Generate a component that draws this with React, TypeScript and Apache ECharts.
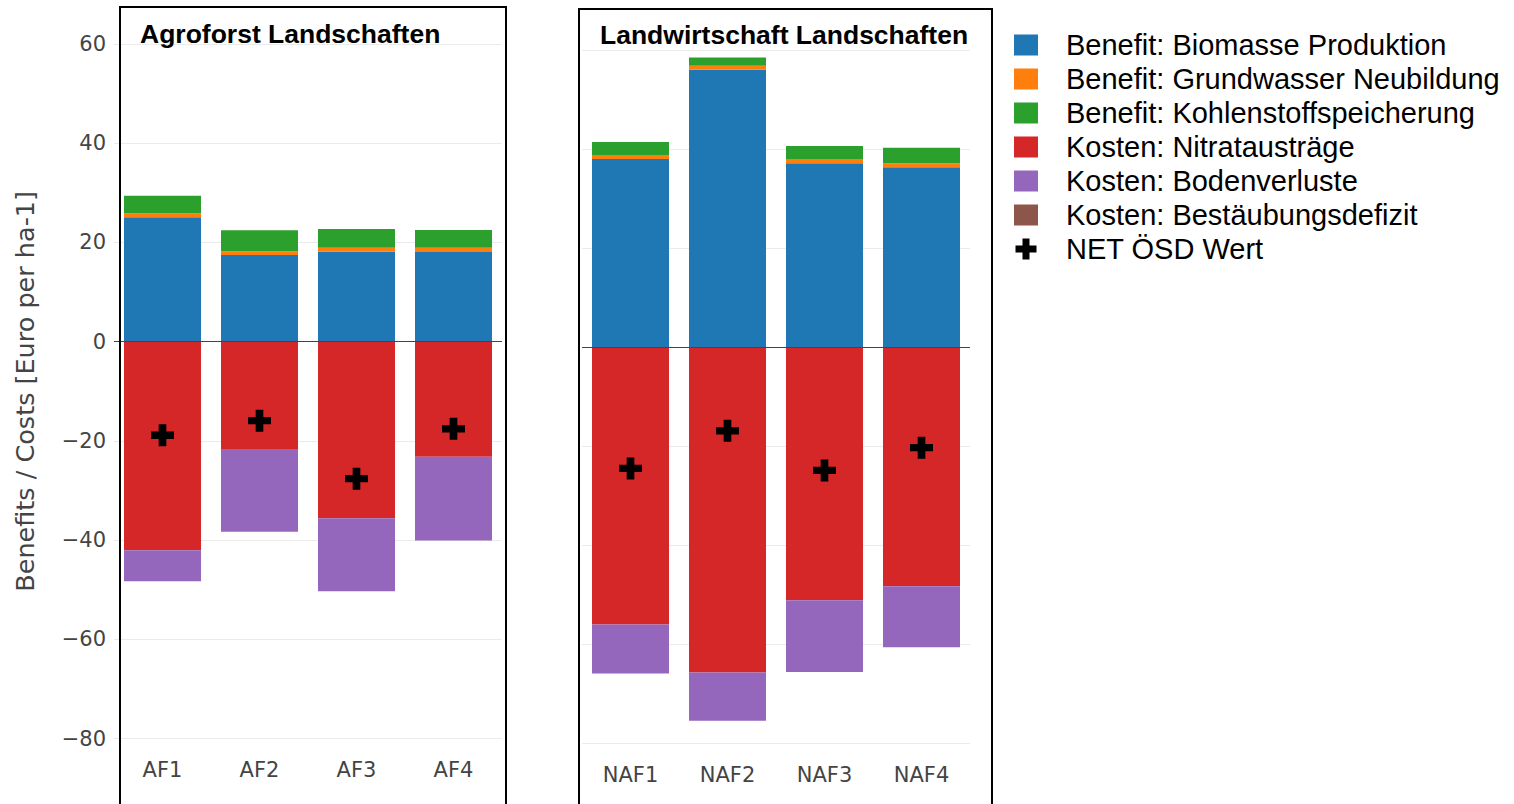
import React, { useEffect, useRef } from "react";
import * as echarts from "echarts";

const categoriesAF = ["AF1", "AF2", "AF3", "AF4"];
const categoriesNAF = ["NAF1", "NAF2", "NAF3", "NAF4"];

const biomasseAF = [25.1, 17.5, 18.15, 18.1];
const grundwasserAF = [0.8, 0.75, 0.8, 0.85];
const kohlenstoffAF = [3.5, 4.2, 3.75, 3.55];
const nitratAF = [-42.0, -21.6, -35.55, -23.2];
const bodenAF = [-6.25, -16.7, -14.75, -16.85];
const bestaeubungAF = [0, 0, 0, 0];
const netAF = [-18.85, -15.9, -27.6, -17.55];

const biomasseNAF = [38.0, 56.0, 37.15, 36.3];
const grundwasserNAF = [0.8, 0.8, 0.85, 0.85];
const kohlenstoffNAF = [2.6, 1.7, 2.6, 3.1];
const nitratNAF = [-56.0, -65.7, -51.1, -48.3];
const bodenNAF = [-9.9, -9.75, -14.5, -12.3];
const bestaeubungNAF = [0, 0, 0, 0];
const netNAF = [-24.5, -16.9, -24.9, -20.3];

const seriesNames = [
  "Benefit: Biomasse Produktion",
  "Benefit: Grundwasser Neubildung",
  "Benefit: Kohlenstoffspeicherung",
  "Kosten: Nitratausträge",
  "Kosten: Bodenverluste",
  "Kosten: Bestäubungsdefizit",
];
const netName = "NET ÖSD Wert";
const colors = ["#1f77b4", "#ff7f0e", "#2ca02c", "#d62728", "#9467bd", "#8c564b"];
const yTicks = { min: -80, max: 60, interval: 20 };

const crossPath = "path://M8,0 H16 V8 H24 V16 H16 V24 H8 V16 H0 V8 H8 Z";

export default function App() {
  const ref = useRef<HTMLDivElement>(null);
  useEffect(() => {
    document.body.style.margin = "0";
    if (!ref.current) return;
    const chart = echarts.init(ref.current, null, { renderer: "svg" });
    const afData = [biomasseAF, grundwasserAF, kohlenstoffAF, nitratAF, bodenAF, bestaeubungAF];
    const nafData = [biomasseNAF, grundwasserNAF, kohlenstoffNAF, nitratNAF, bodenNAF, bestaeubungNAF];
    const zeroLine = {
      silent: true,
      symbol: "none",
      label: { show: false },
      lineStyle: { color: "#444", width: 1, type: "solid" },
      data: [{ yAxis: 0 }],
    };
    const mkBars = (data: number[][], gi: number) =>
      data.map((d, i) => ({
        type: "bar",
        name: seriesNames[i],
        xAxisIndex: gi,
        yAxisIndex: gi,
        stack: "s" + gi,
        barWidth: 77,
        data: d,
        itemStyle: { color: colors[i] },
        markLine: i === 0 ? zeroLine : undefined,
      }));
    const mkNet = (d: number[], gi: number) => ({
      type: "scatter",
      name: netName,
      xAxisIndex: gi,
      yAxisIndex: gi,
      symbol: crossPath,
      symbolSize: [23, 22],
      itemStyle: { color: "#000", opacity: 1 },
      data: d,
      z: 10,
    });
    const tickFmt = (v: number) => (v < 0 ? "\u2212" + Math.abs(v) : String(v));
    const xAxisBase = {
      type: "category",
      axisLine: { show: false },
      axisTick: { show: false },
      axisLabel: { color: "#444", fontSize: 21, fontFamily: "DejaVu Sans", margin: 21 },
    };
    const splitLine = { show: true, lineStyle: { color: "#ebebeb", width: 1 } };
    chart.setOption({
      animation: false,
      grid: [
        { left: 114, width: 388, top: 44, height: 694.7 },
        { left: 582, width: 388, top: 50, height: 693.3 },
      ],
      xAxis: [
        { ...xAxisBase, gridIndex: 0, data: categoriesAF },
        { ...xAxisBase, gridIndex: 1, data: categoriesNAF },
      ],
      yAxis: [
        {
          type: "value",
          gridIndex: 0,
          ...yTicks,
          splitLine,
          axisLine: { show: false },
          axisTick: { show: false },
          axisLabel: {
            color: "#444",
            fontSize: 21,
            fontFamily: "DejaVu Sans",
            margin: 8,
            padding: [7, 0, 0, 0],
            formatter: tickFmt,
          },
          name: "Benefits / Costs [Euro per ha-1]",
          nameLocation: "middle",
          nameGap: 76,
          nameTextStyle: { color: "#444", fontSize: 25.5, fontFamily: "DejaVu Sans" },
        },
        {
          type: "value",
          gridIndex: 1,
          ...yTicks,
          splitLine,
          axisLine: { show: false },
          axisTick: { show: false },
          axisLabel: { show: false },
        },
      ],
      legend: {
        orient: "vertical",
        left: 1009,
        top: 25.5,
        itemWidth: 24,
        itemHeight: 21,
        itemGap: 5,
        selectedMode: false,
        textStyle: {
          fontSize: 29,
          fontFamily: "Liberation Sans, Arial",
          color: "#000",
          lineHeight: 21,
          padding: [0, 0, 0, 23],
        },
        data: [
          ...seriesNames.map((n) => ({ name: n, icon: "rect" })),
          { name: netName, icon: crossPath },
        ],
      },
      graphic: [
        {
          type: "rect",
          shape: { x: 120, y: 7, width: 386, height: 820 },
          style: { fill: "none", stroke: "#000", lineWidth: 2 },
          z: 100,
          silent: true,
        },
        {
          type: "rect",
          shape: { x: 579, y: 9, width: 413, height: 820 },
          style: { fill: "none", stroke: "#000", lineWidth: 2 },
          z: 100,
          silent: true,
        },
        {
          type: "text",
          x: 140,
          y: 34,
          style: {
            text: "Agroforst Landschaften",
            fontSize: 26.5,
            fontWeight: "bold",
            fontFamily: "Liberation Sans, Arial",
            fill: "#000",
            verticalAlign: "middle",
          },
          z: 100,
        },
        {
          type: "text",
          x: 600,
          y: 35,
          style: {
            text: "Landwirtschaft Landschaften",
            fontSize: 26.5,
            fontWeight: "bold",
            fontFamily: "Liberation Sans, Arial",
            fill: "#000",
            verticalAlign: "middle",
          },
          z: 100,
        },
      ],
      series: [...mkBars(afData, 0), ...mkBars(nafData, 1), mkNet(netAF, 0), mkNet(netNAF, 1)],
    });
    return () => chart.dispose();
  }, []);
  return <div ref={ref} style={{ width: 1514, height: 804 }} />;
}
